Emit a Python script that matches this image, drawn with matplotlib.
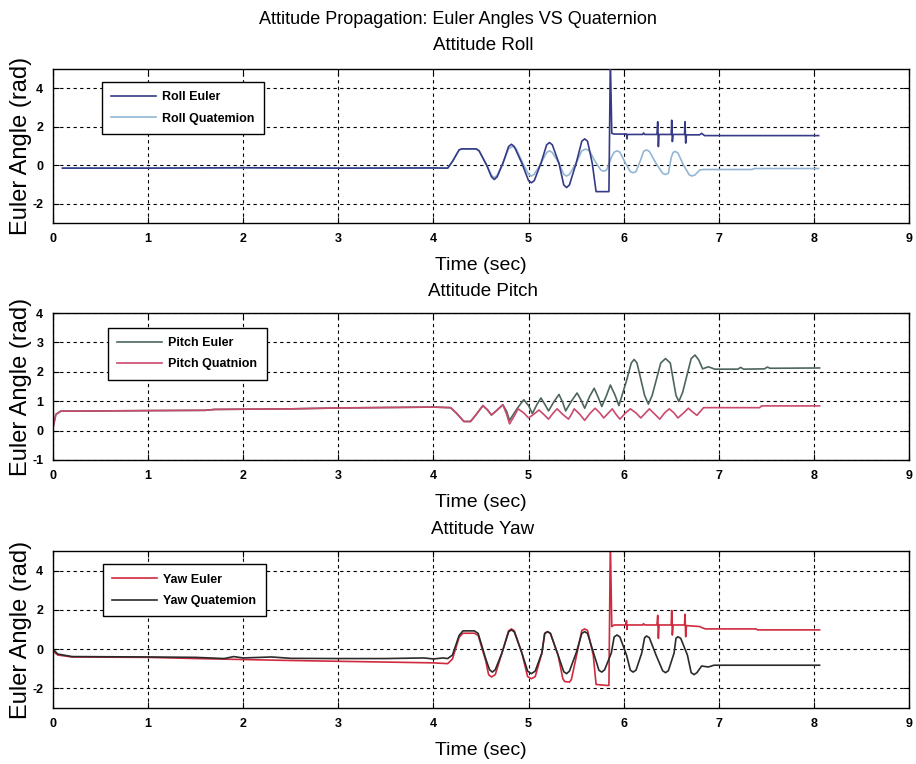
import matplotlib
matplotlib.use("Agg")
import matplotlib.pyplot as plt

plt.rcParams['font.family'] = ['Liberation Sans', 'DejaVu Sans']
plt.rcParams['axes.unicode_minus'] = False

# ---------------- data ----------------
roll_euler_t = [0.1, 1.0, 2.0, 3.0, 4.0, 4.15, 4.2, 4.27, 4.3, 4.45, 4.48, 4.56, 4.61, 4.64, 4.67,
                4.73, 4.79, 4.82, 4.85, 4.93, 5.0, 5.03, 5.06, 5.13, 5.19, 5.22, 5.25, 5.32, 5.37,
                5.40, 5.43, 5.50, 5.56, 5.59, 5.62, 5.67, 5.71, 5.845, 5.86, 5.875, 5.9, 6.02, 6.03,
                6.035, 6.04, 6.2, 6.21, 6.22, 6.35, 6.358, 6.365, 6.372, 6.5, 6.505, 6.512, 6.52,
                6.64, 6.645, 6.652, 6.66, 6.8, 6.82, 6.85, 8.05]
roll_euler_v = [-0.15, -0.15, -0.13, -0.15, -0.14, -0.15, 0.2, 0.8, 0.85, 0.85, 0.75, 0.0, -0.6, -0.74, -0.6,
                0.1, 0.97, 1.09, 0.97, 0.1, -0.8, -0.91, -0.8, 0.1, 1.06, 1.18, 1.06, 0.1, -1.02,
                -1.16, -1.02, 0.1, 1.25, 1.37, 1.25, 0.1, -1.37, -1.37, 5.5, 1.66, 1.62, 1.62, 1.62,
                1.37, 1.6, 1.6, 1.68, 1.6, 1.6, 2.26, 0.97, 1.6, 1.6, 2.34, 1.23, 1.6,
                1.6, 2.26, 1.15, 1.58, 1.58, 1.66, 1.54, 1.54]

roll_quat_t = [0.1, 1.0, 2.0, 3.0, 4.0, 4.15, 4.2, 4.27, 4.3, 4.45, 4.48, 4.56, 4.61, 4.64, 4.67,
               4.73, 4.79, 4.83, 4.87, 4.94, 5.0, 5.03, 5.06, 5.13, 5.19, 5.22, 5.25, 5.32, 5.37,
               5.40, 5.43, 5.50, 5.56, 5.60, 5.64, 5.70, 5.76, 5.79, 5.82, 5.87, 5.90, 5.93, 5.96,
               6.02, 6.07, 6.10, 6.13, 6.18, 6.21, 6.24, 6.27, 6.34, 6.41, 6.44, 6.47, 6.50, 6.52,
               6.54, 6.57, 6.63, 6.69, 6.72, 6.75, 6.80, 6.84, 7.35, 7.37, 8.05]
roll_quat_v = [-0.15, -0.15, -0.13, -0.15, -0.14, -0.15, 0.2, 0.8, 0.85, 0.85, 0.75, 0.0, -0.52, -0.65, -0.52,
               0.1, 0.86, 0.97, 0.86, 0.1, -0.47, -0.56, -0.47, 0.1, 0.66, 0.75, 0.66, 0.1, -0.47,
               -0.56, -0.47, 0.1, 0.75, 0.84, 0.75, 0.2, -0.25, -0.31, -0.25, 0.4, 0.68, 0.75, 0.68,
               0.1, -0.33, -0.39, -0.33, 0.3, 0.72, 0.80, 0.72, 0.1, -0.42, -0.48, -0.42, 0.4, 0.66,
               0.72, 0.64, 0.0, -0.5, -0.56, -0.5, -0.25, -0.22, -0.22, -0.17, -0.17]

pitch_euler_t = [0.0, 0.03, 0.08, 1.0, 1.6, 1.7, 2.5, 3.0, 4.0, 4.18, 4.24, 4.32, 4.39, 4.45, 4.52,
                 4.57, 4.61, 4.67, 4.73, 4.77, 4.80, 4.88, 4.95, 5.0, 5.04, 5.09, 5.13, 5.17, 5.21,
                 5.27, 5.32, 5.36, 5.39, 5.45, 5.51, 5.55, 5.59, 5.64, 5.69, 5.73, 5.77, 5.82, 5.86,
                 5.91, 5.95, 6.03, 6.08, 6.11, 6.14, 6.22, 6.26, 6.30, 6.39, 6.44, 6.49, 6.55, 6.58,
                 6.62, 6.71, 6.75, 6.79, 6.83, 6.89, 6.96, 7.2, 7.23, 7.26, 7.48, 7.51, 7.54, 8.06]
pitch_euler_v = [0.1, 0.55, 0.66, 0.68, 0.69, 0.72, 0.74, 0.77, 0.8, 0.78, 0.6, 0.31, 0.31, 0.55, 0.85,
                 0.7, 0.53, 0.7, 0.88, 0.65, 0.35, 0.75, 1.05, 0.85, 0.58, 0.9, 1.11, 0.9, 0.67,
                 1.0, 1.23, 0.95, 0.67, 1.0, 1.28, 1.05, 0.76, 1.15, 1.44, 1.15, 0.82, 1.2, 1.55,
                 1.2, 0.85, 1.7, 2.3, 2.42, 2.3, 1.2, 0.9, 1.2, 2.3, 2.45, 2.3, 1.2, 0.99,
                 1.3, 2.45, 2.57, 2.4, 2.1, 2.17, 2.09, 2.09, 2.15, 2.09, 2.1, 2.16, 2.12, 2.13]

pitch_quat_t = [0.0, 0.03, 0.08, 1.0, 1.6, 1.7, 2.5, 3.0, 4.0, 4.18, 4.24, 4.32, 4.39, 4.45, 4.52,
                4.57, 4.61, 4.67, 4.73, 4.77, 4.80, 4.85, 4.89, 4.95, 5.0, 5.06, 5.11, 5.16, 5.21,
                5.26, 5.30, 5.36, 5.42, 5.45, 5.48, 5.54, 5.59, 5.65, 5.70, 5.75, 5.79, 5.84, 5.88,
                5.92, 5.96, 6.02, 6.07, 6.13, 6.18, 6.23, 6.27, 6.33, 6.38, 6.43, 6.48, 6.53, 6.57,
                6.63, 6.68, 6.73, 6.77, 6.84, 7.43, 7.45, 8.06]
pitch_quat_v = [0.1, 0.55, 0.66, 0.68, 0.69, 0.72, 0.74, 0.77, 0.8, 0.78, 0.6, 0.31, 0.31, 0.55, 0.85,
                0.7, 0.53, 0.7, 0.88, 0.55, 0.23, 0.5, 0.74, 0.6, 0.43, 0.57, 0.70, 0.55, 0.39,
                0.6, 0.74, 0.55, 0.39, 0.55, 0.74, 0.55, 0.35, 0.6, 0.76, 0.6, 0.43, 0.6, 0.74,
                0.55, 0.39, 0.6, 0.74, 0.6, 0.43, 0.6, 0.74, 0.55, 0.39, 0.6, 0.74, 0.6, 0.43,
                0.6, 0.76, 0.62, 0.52, 0.78, 0.78, 0.84, 0.84]

yaw_euler_t = [0.0, 0.05, 0.2, 1.0, 1.5, 2.0, 2.5, 3.0, 3.5, 4.0, 4.15, 4.2, 4.27, 4.31, 4.43, 4.47,
               4.55, 4.58, 4.61, 4.65, 4.72, 4.79, 4.82, 4.85, 4.93, 4.99, 5.03, 5.07, 5.14, 5.17,
               5.20, 5.23, 5.31, 5.36, 5.38, 5.43, 5.45, 5.51, 5.56, 5.59, 5.62, 5.68, 5.71, 5.82,
               5.845, 5.86, 5.875, 5.9, 6.02, 6.03, 6.035, 6.04, 6.2, 6.21, 6.22, 6.35, 6.358, 6.365,
               6.372, 6.5, 6.505, 6.512, 6.52, 6.64, 6.645, 6.652, 6.66, 6.8, 6.82, 6.86, 7.39, 7.41, 8.06]
yaw_euler_v = [-0.1, -0.3, -0.4, -0.42, -0.48, -0.53, -0.58, -0.62, -0.66, -0.7, -0.74, -0.5, 0.6, 0.81, 0.81, 0.7,
               -0.6, -1.3, -1.42, -1.3, -0.2, 0.93, 1.03, 0.93, -0.2, -1.4, -1.51, -1.4, -0.2, 0.8,
               0.89, 0.8, -0.3, -1.5, -1.65, -1.68, -1.55, -0.2, 0.95, 1.03, 0.95, -0.3, -1.8, -1.85,
               -1.85, 5.5, 1.15, 1.23, 1.23, 1.45, 1.0, 1.23, 1.23, 1.3, 1.23, 1.23, 1.72, 0.55,
               1.23, 1.23, 1.97, 0.72, 1.23, 1.23, 1.78, 0.63, 1.2, 1.15, 1.1, 1.03, 1.03, 0.98, 0.98]

yaw_quat_t = [0.0, 0.05, 0.2, 1.0, 1.5, 1.8, 1.9, 2.0, 2.3, 2.5, 3.0, 3.5, 3.9, 4.0, 4.1, 4.15, 4.2,
              4.27, 4.31, 4.43, 4.47, 4.55, 4.59, 4.62, 4.65, 4.72, 4.79, 4.82, 4.85, 4.93, 4.99,
              5.03, 5.07, 5.14, 5.17, 5.20, 5.23, 5.31, 5.37, 5.40, 5.43, 5.50, 5.56, 5.59, 5.62,
              5.69, 5.74, 5.77, 5.80, 5.87, 5.90, 5.93, 5.96, 6.03, 6.07, 6.10, 6.13, 6.19, 6.22,
              6.24, 6.27, 6.34, 6.41, 6.44, 6.47, 6.53, 6.55, 6.57, 6.60, 6.67, 6.71, 6.74, 6.77,
              6.82, 6.89, 6.95, 8.06]
yaw_quat_v = [0.0, -0.25, -0.38, -0.4, -0.42, -0.48, -0.38, -0.45, -0.4, -0.47, -0.48, -0.48, -0.45, -0.5, -0.45, -0.48, -0.3,
              0.7, 0.93, 0.93, 0.8, -0.5, -1.05, -1.17, -1.05, -0.2, 0.88, 0.98, 0.88, -0.2, -1.12,
              -1.25, -1.12, -0.2, 0.8, 0.89, 0.8, -0.3, -1.15, -1.25, -1.12, -0.2, 0.8, 0.89, 0.8,
              -0.3, -1.08, -1.17, -1.05, -0.2, 0.62, 0.72, 0.62, -0.3, -1.07, -1.17, -1.07, -0.2, 0.58,
              0.67, 0.58, -0.3, -1.1, -1.2, -1.1, -0.2, 0.55, 0.63, 0.55, -0.3, -1.2, -1.3, -1.2,
              -0.86, -0.91, -0.82, -0.82]

x_ticks = [0, 1, 2, 3, 4, 5, 6, 7, 8, 9]
roll_yticks = [-2, 0, 2, 4]
pitch_yticks = [-1, 0, 1, 2, 3, 4]
yaw_yticks = [-2, 0, 2, 4]

main_title = "Attitude Propagation: Euler Angles VS Quaternion"
sub_titles = ["Attitude Roll", "Attitude Pitch", "Attitude Yaw"]
x_label = "Time (sec)"
y_label = "Euler Angle (rad)"

# ---------------- figure ----------------
fig = plt.figure(figsize=(9.16, 7.64), dpi=100)
W, H = 916.0, 764.0

def axpos(top, bottom, left=53, right=909):
    return [left / W, 1 - bottom / H, (right - left) / W, (bottom - top) / H]

ax1 = fig.add_axes(axpos(69, 223))
ax2 = fig.add_axes(axpos(313, 460))
ax3 = fig.add_axes(axpos(551, 708))

lw = 1.2
c_roll_e, c_roll_q = '#353b86', '#93b6d4'
c_pitch_e, c_pitch_q = '#4d665a', '#c94a6c'
c_yaw_e, c_yaw_q = '#d02a3e', '#2b2b2b'

leg_kw = dict(loc='upper left', handlelength=3.6, handletextpad=0.5, labelspacing=0.75,
              borderpad=0.75, borderaxespad=0, fancybox=False, framealpha=1,
              edgecolor='black', prop={'size': 9, 'weight': 'bold'})

l1, = ax1.plot(roll_euler_t, roll_euler_v, color=c_roll_e, lw=lw, label='Roll Euler', zorder=3)
l2, = ax1.plot(roll_quat_t, roll_quat_v, color=c_roll_q, lw=lw, label='Roll Quatemion', zorder=2)
ax1.legend(handles=[l1, l2], bbox_to_anchor=(0.057, 0.916), **leg_kw)

ax2.plot(pitch_euler_t, pitch_euler_v, color=c_pitch_e, lw=lw, label='Pitch Euler')
ax2.plot(pitch_quat_t, pitch_quat_v, color=c_pitch_q, lw=lw, label='Pitch Quatnion')
ax2.legend(bbox_to_anchor=(0.064, 0.90), **leg_kw)

ax3.plot(yaw_euler_t, yaw_euler_v, color=c_yaw_e, lw=lw, label='Yaw Euler')
ax3.plot(yaw_quat_t, yaw_quat_v, color=c_yaw_q, lw=lw, label='Yaw Quatemion')
ax3.legend(bbox_to_anchor=(0.058, 0.915), **leg_kw)

for ax, ylim, yt in [(ax1, (-3, 5), roll_yticks), (ax2, (-1, 4), pitch_yticks), (ax3, (-3, 5), yaw_yticks)]:
    ax.set_xlim(0, 9)
    ax.set_ylim(*ylim)
    ax.set_xticks(x_ticks)
    ax.set_yticks(yt)
    ax.grid(True, color='black', linestyle=(0, (3, 3)), linewidth=0.8)
    ax.tick_params(direction='in', top=True, right=True, labelsize=9, length=4, pad=7)
    for lab in ax.get_xticklabels() + ax.get_yticklabels():
        lab.set_fontweight('bold')
    for sp in ax.spines.values():
        sp.set_linewidth(1.0)
    ax.set_xlabel(x_label, fontsize=14, labelpad=9)
    ax.set_ylabel(y_label, fontsize=17)
    ax.yaxis.set_label_coords(-0.025, 0.5)
    ax.get_legend().get_frame().set_linewidth(1.0)

fig.text(458 / W, 1 - 20 / H, main_title, ha='center', va='center', fontsize=13)
fig.text(483 / W, 1 - 45 / H, sub_titles[0], ha='center', va='center', fontsize=13.5)
fig.text(483 / W, 1 - 292 / H, sub_titles[1], ha='center', va='center', fontsize=13.5)
fig.text(483 / W, 1 - 530 / H, sub_titles[2], ha='center', va='center', fontsize=13.5)

fig.savefig('out.png', dpi=100)
